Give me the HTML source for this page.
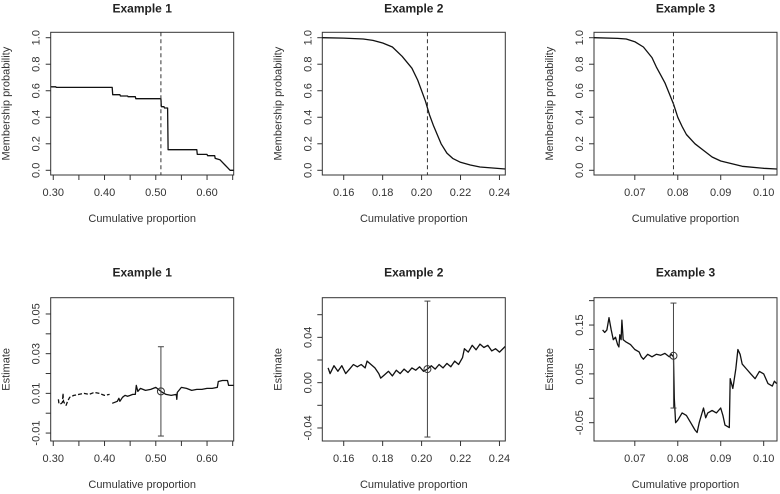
<!DOCTYPE html>
<html><head><meta charset="utf-8"><style>
html,body{margin:0;padding:0;background:#fff;}
svg{display:block;font-family:"Liberation Sans",Arial,sans-serif;}
</style></head><body>
<svg id="c" width="780" height="494" viewBox="0 0 780 494"></svg>
<script>
// ---- data ----
const p1TopX=[0.295,0.305,0.306,0.415,0.416,0.43,0.431,0.445,0.446,0.46,0.461,0.51,0.511,0.516,0.517,0.523,0.524,0.58,0.581,0.60,0.601,0.615,0.616,0.625,0.63,0.635,0.64,0.645,0.652];
const p1TopY=[0.63,0.63,0.625,0.625,0.57,0.57,0.56,0.56,0.555,0.555,0.54,0.54,0.48,0.48,0.47,0.47,0.155,0.155,0.12,0.12,0.11,0.11,0.09,0.08,0.06,0.04,0.02,0.0,0.0];
const p2TopX=[0.149,0.16,0.17,0.175,0.18,0.185,0.19,0.195,0.198,0.2,0.202,0.204,0.206,0.208,0.21,0.213,0.216,0.22,0.225,0.23,0.243];
const p2TopY=[1.0,0.997,0.99,0.98,0.96,0.93,0.86,0.77,0.68,0.6,0.52,0.42,0.34,0.27,0.2,0.13,0.09,0.06,0.04,0.025,0.01];
const p3TopX=[0.0605,0.066,0.068,0.07,0.072,0.074,0.075,0.076,0.077,0.078,0.079,0.08,0.081,0.082,0.084,0.086,0.088,0.09,0.095,0.1,0.103];
const p3TopY=[1.0,0.995,0.99,0.97,0.93,0.85,0.78,0.72,0.66,0.58,0.5,0.4,0.33,0.27,0.2,0.15,0.1,0.07,0.03,0.015,0.01];
const cutoffs=[0.51,0.203,0.079];

const b1AX=[0.31,0.311,0.313,0.316,0.318,0.319,0.32,0.322,0.325,0.328,0.332,0.34,0.35,0.36,0.37,0.38,0.39,0.40,0.41];
const b1AY=[0.007,0.005,0.0045,0.005,0.0055,0.01,0.006,0.005,0.004,0.006,0.008,0.009,0.0095,0.01,0.0095,0.0105,0.01,0.009,0.0095];
const b1BX=[0.415,0.42,0.425,0.428,0.43,0.435,0.44,0.445,0.45,0.455,0.46,0.462,0.465,0.47,0.48,0.49,0.50,0.51,0.52,0.53,0.54,0.541,0.542,0.55,0.56,0.57,0.58,0.59,0.60,0.61,0.62,0.622,0.63,0.64,0.642,0.652];
const b1BY=[0.005,0.0055,0.006,0.0075,0.006,0.008,0.009,0.0085,0.009,0.0095,0.0095,0.014,0.011,0.0125,0.0115,0.012,0.013,0.011,0.0095,0.009,0.0095,0.007,0.0105,0.013,0.0125,0.0115,0.012,0.012,0.0125,0.0125,0.013,0.016,0.0165,0.0165,0.014,0.014];
const b2X=[0.152,0.153,0.155,0.157,0.159,0.161,0.163,0.165,0.167,0.169,0.171,0.172,0.174,0.176,0.178,0.179,0.181,0.183,0.185,0.187,0.189,0.191,0.193,0.195,0.197,0.199,0.201,0.203,0.205,0.207,0.209,0.211,0.213,0.215,0.217,0.219,0.221,0.222,0.224,0.226,0.228,0.230,0.232,0.234,0.236,0.238,0.240,0.243];
const b2Y=[0.013,0.008,0.015,0.01,0.015,0.008,0.012,0.016,0.014,0.016,0.013,0.019,0.016,0.013,0.008,0.004,0.007,0.01,0.006,0.011,0.008,0.012,0.009,0.013,0.011,0.014,0.01,0.012,0.015,0.012,0.016,0.013,0.017,0.014,0.019,0.016,0.022,0.03,0.027,0.033,0.029,0.034,0.031,0.033,0.028,0.03,0.027,0.032];
const b3X=[0.0625,0.063,0.0635,0.064,0.0645,0.065,0.0655,0.066,0.0663,0.0665,0.0668,0.067,0.0673,0.068,0.069,0.070,0.071,0.0715,0.072,0.073,0.074,0.075,0.076,0.077,0.078,0.0785,0.079,0.0792,0.0795,0.08,0.081,0.082,0.083,0.084,0.0845,0.085,0.086,0.0865,0.087,0.088,0.089,0.090,0.0905,0.091,0.092,0.0922,0.0928,0.093,0.0935,0.094,0.0945,0.095,0.096,0.097,0.098,0.099,0.100,0.101,0.102,0.1025,0.103];
const b3Y=[0.14,0.135,0.14,0.165,0.14,0.12,0.125,0.11,0.105,0.13,0.12,0.16,0.12,0.115,0.11,0.1,0.095,0.085,0.08,0.09,0.085,0.09,0.088,0.092,0.085,0.09,0.085,0.0,-0.05,-0.045,-0.03,-0.035,-0.05,-0.065,-0.07,-0.05,-0.02,-0.04,-0.03,-0.025,-0.03,-0.02,-0.035,-0.055,-0.06,0.04,0.02,0.03,0.06,0.1,0.09,0.07,0.06,0.05,0.04,0.055,0.05,0.03,0.025,0.035,0.03];
const estX=[0.51,0.203,0.079];
const estY=[0.011,0.012,0.087];
const ciLo=[-0.0115,-0.048,-0.02];
const ciHi=[0.0335,0.072,0.195];

const xTicks=[[0.30,0.35,0.40,0.45,0.50,0.55,0.60,0.65],[0.16,0.18,0.20,0.22,0.24],[0.07,0.08,0.09,0.10]];
const xLabels=[["0.30","","0.40","","0.50","","0.60",""],["0.16","0.18","0.20","0.22","0.24"],["0.07","0.08","0.09","0.10"]];
const topYTicks=[0,0.2,0.4,0.6,0.8,1.0];
const topYLabels=["0.0","0.2","0.4","0.6","0.8","1.0"];
const botYTicks=[[-0.01,0,0.01,0.02,0.03,0.04,0.05],[-0.04,-0.02,0,0.02,0.04,0.06],[-0.05,0,0.05,0.10,0.15,0.20]];
const botYLabels=[["-0.01","","0.01","","0.03","","0.05"],["-0.04","","0.00","","0.04",""],["-0.05","","0.05","","0.15",""]];
const xDom=[[0.295,0.652],[0.149,0.243],[0.0605,0.1031]];
const botYDom=[[-0.014,0.0582],[-0.0515,0.075],[-0.0875,0.206]];

// ---- drawing ----
const svg=document.getElementById('c');
const NS='http://www.w3.org/2000/svg';
function mk(tag,attrs,parent){const e=document.createElementNS(NS,tag);for(const k in attrs)e.setAttribute(k,attrs[k]);(parent||svg).appendChild(e);return e;}
const boxL=[50.7,322.3,594];const boxW=183;
const topBox=[32.3,175];const botBox=[297.7,441];

function panel(i,row){
  const g=mk('g',{});
  
  
  const L=boxL[i],R=L+boxW;
  const T=row==0?topBox[0]:botBox[0],B=row==0?topBox[1]:botBox[1];
  const yd=row==0?[-0.0355,1.04]:botYDom[i];
  const sx=v=>L+(v-xDom[i][0])/(xDom[i][1]-xDom[i][0])*boxW;
  const sy=v=>B-(v-yd[0])/(yd[1]-yd[0])*(B-T);
  if(row==0){ /* calibrate so 0 ->170.3, 1 ->37.7 */ }
  const syT=v=>170.3-v*132.6;
  const Y=row==0?syT:sy;
  const box=mk('rect',{x:L,y:T,width:boxW,height:B-T,fill:'none',stroke:'#333','stroke-width':1},g);
  
  // x ticks
  xTicks[i].forEach((t,k)=>{
    const x=sx(t); if(x<L-1||x>R+1)return;
    const tk=mk('line',{x1:x,x2:x,y1:B,y2:B+5,stroke:'#333'},g);
    
    if(xLabels[i][k]){const tx=mk('text',{x:x,y:B+21,'font-size':11,'text-anchor':'middle',fill:'#333'},g);tx.textContent=xLabels[i][k];
      }
  });
  const yt=row==0?topYTicks:botYTicks[i];const yl=row==0?topYLabels:botYLabels[i];
  yt.forEach((t,k)=>{
    const y=Y(t);
    const tk=mk('line',{x1:L-5,x2:L,y1:y,y2:y,stroke:'#333'},g);
    
    if(yl[k]){const tx=mk('text',{x:0,y:0,'font-size':11,'text-anchor':'middle',fill:'#333',transform:`translate(${L-11},${y}) rotate(-90)`},g);tx.textContent=yl[k];
      }
  });
  const ttl=mk('text',{x:(L+R)/2,y:T-(row==0?20:21),'font-size':12,'font-weight':'bold','text-anchor':'middle',fill:'#222'},g);
  ttl.textContent='Example '+(i+1);
  const xt=mk('text',{x:(L+R)/2,y:B+47,'font-size':11,'text-anchor':'middle',fill:'#333'},g);
  xt.textContent='Cumulative proportion';
  const yT=mk('text',{x:0,y:0,'font-size':11,'text-anchor':'middle',fill:'#333',transform:`translate(${L-41},${(T+B)/2}) rotate(-90)`},g);
  yT.textContent=row==0?'Membership probability':'Estimate';
  const cp=mk('clipPath',{id:'cp'+row+i},g);mk('rect',{x:L,y:T,width:boxW,height:B-T},cp);
  const pg=mk('g',{'clip-path':`url(#cp${row}${i})`},g);
  const line=(xs,ys,name,dash)=>{const d=xs.map((v,k)=>(k?'L':'M')+sx(v).toFixed(1)+','+Y(ys[k]).toFixed(1)).join('');
    const p=mk('path',{d:d,fill:'none',stroke:'#111','stroke-width':1.3,'stroke-linejoin':'round'},pg);if(dash)p.setAttribute('stroke-dasharray',dash);
    };
  if(row==0){
    const xs=[p1TopX,p2TopX,p3TopX][i],ys=[p1TopY,p2TopY,p3TopY][i];
    line(xs,ys,'membership-curve');
    const cx=sx(cutoffs[i]);
    const dl=mk('line',{x1:cx,x2:cx,y1:T,y2:B,stroke:'#333','stroke-dasharray':'4,3'},pg);
    
  } else {
    if(i==0){line(b1AX,b1AY,'estimate-line-early','4,2');line(b1BX,b1BY,'estimate-line');}
    if(i==1)line(b2X,b2Y,'estimate-line');
    if(i==2)line(b3X,b3Y,'estimate-line');
    const ex=sx(estX[i]);
    const eg=mk('g',{stroke:'#444','stroke-width':1,fill:'none'},g);
    
    mk('line',{x1:ex,x2:ex,y1:Y(ciLo[i]),y2:Y(ciHi[i])},eg);
    mk('line',{x1:ex-3,x2:ex+3,y1:Y(ciLo[i]),y2:Y(ciLo[i])},eg);
    mk('line',{x1:ex-3,x2:ex+3,y1:Y(ciHi[i]),y2:Y(ciHi[i])},eg);
    const c=mk('circle',{cx:ex,cy:Y(estY[i]),r:3.5,stroke:'#333',fill:'none'},g);
    
  }
}
for(let r=0;r<2;r++)for(let i=0;i<3;i++)panel(i,r);
</script>
</body></html>
